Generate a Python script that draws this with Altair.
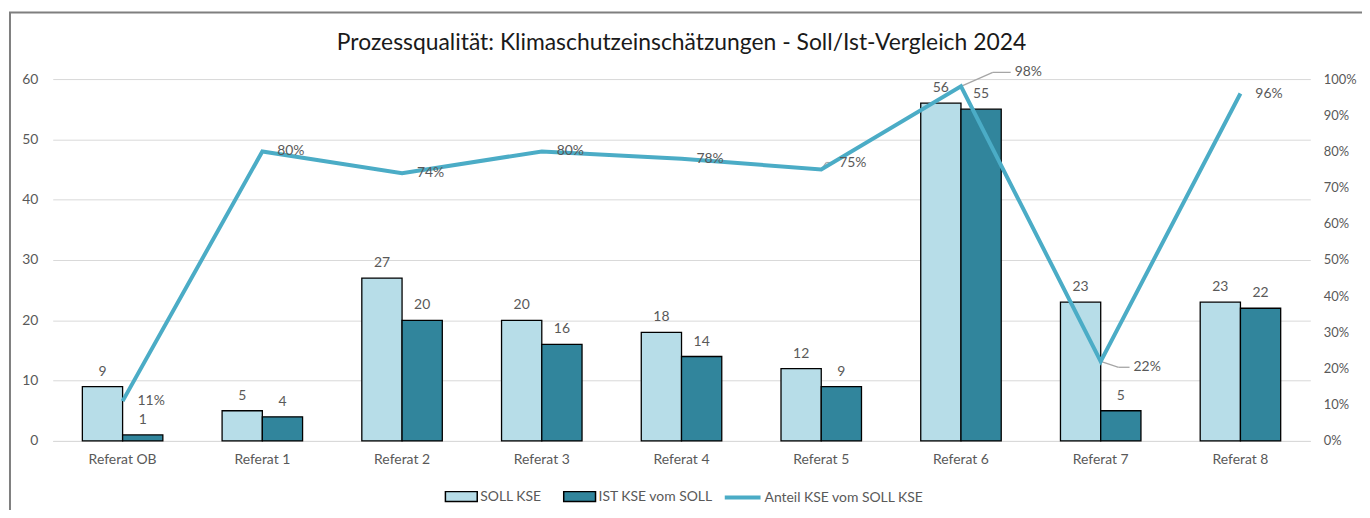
import altair as alt
import pandas as pd

categories = ["Referat OB", "Referat 1", "Referat 2", "Referat 3", "Referat 4",
              "Referat 5", "Referat 6", "Referat 7", "Referat 8"]
soll_kse = [9, 5, 27, 20, 18, 12, 56, 23, 23]
ist_kse = [1, 4, 20, 16, 14, 9, 55, 5, 22]
anteil = [0.11, 0.80, 0.74, 0.80, 0.78, 0.75, 0.98, 0.22, 0.96]

series_names = ["SOLL KSE", "IST KSE vom SOLL"]
line_name = "Anteil KSE vom SOLL KSE"
left_ticks = [0, 10, 20, 30, 40, 50, 60]
right_ticks = [0, 0.1, 0.2, 0.3, 0.4, 0.5, 0.6, 0.7, 0.8, 0.9, 1.0]
title_text = "Prozessqualität: Klimaschutzeinschätzungen - Soll/Ist-Vergleich 2024"

FONT = "Lato"
TXT = "#595959"
FS = 14

bars_df = pd.DataFrame({
    "Referat": categories * 2,
    "Serie": [series_names[0]] * len(categories) + [series_names[1]] * len(categories),
    "Wert": soll_kse + ist_kse,
})
line_df = pd.DataFrame({"Referat": categories, "Anteil": anteil, "Name": [line_name] * len(categories)})

x_enc = alt.X("Referat:N", sort=categories,
              scale=alt.Scale(paddingInner=0.424, paddingOuter=0.212),
              axis=alt.Axis(title=None, labelAngle=0, ticks=False, domainColor="#d9d9d9",
                            domainWidth=1, labelPadding=12, labelFontSize=FS,
                            labelColor=TXT, labelFont=FONT))
x_plain = alt.X("Referat:N", sort=categories)
x_off = alt.XOffset("Serie:N", sort=series_names,
                    scale=alt.Scale(domain=series_names, paddingInner=0, paddingOuter=0))

left_axis = alt.Axis(title=None, values=left_ticks, grid=True, gridColor="#d9d9d9",
                     domain=False, ticks=False, labelPadding=15, labelFontSize=FS,
                     labelColor=TXT, labelFont=FONT, labelOverlap=False)
y_left = alt.Y("Wert:Q", scale=alt.Scale(domain=[0, 60], nice=False), axis=left_axis)

bars = alt.Chart(bars_df).mark_bar(stroke="black", strokeWidth=1.3).encode(
    x=x_enc,
    xOffset=x_off,
    y=y_left,
    fill=alt.Fill("Serie:N", sort=series_names,
                  scale=alt.Scale(domain=series_names, range=["#b7dde8", "#31859c"]),
                  legend=alt.Legend(title=None, orient="none", legendX=394, legendY=403,
                                    direction="horizontal", padding=0,
                                    symbolType="M-1,-0.3125L1,-0.3125L1,0.3125L-1,0.3125Z",
                                    symbolSize=1024, symbolStrokeColor="black",
                                    symbolStrokeWidth=1.5, symbolOpacity=1,
                                    labelFontSize=FS, labelColor=TXT, labelFont=FONT,
                                    labelOffset=2, columnPadding=19)),
)

bar_text = alt.Chart(bars_df).mark_text(baseline="bottom", dy=-8, fontSize=FS,
                                        color=TXT, font=FONT).encode(
    x=x_plain,
    xOffset=x_off,
    y=y_left,
    text=alt.Text("Wert:Q"),
)

right_axis = alt.Axis(title=None, orient="right", values=right_ticks, format=".0%",
                      tickCount=11, grid=False, domain=False, ticks=False, labelPadding=13,
                      labelOverlap=False, labelFontSize=13, labelColor=TXT, labelFont=FONT)
y_right = alt.Y("Anteil:Q", scale=alt.Scale(domain=[0, 1], nice=False), axis=right_axis)

line = alt.Chart(line_df).mark_line(strokeWidth=4).encode(
    x=x_plain,
    y=y_right,
    stroke=alt.Stroke("Name:N", scale=alt.Scale(domain=[line_name], range=["#4bacc6"]),
                      legend=alt.Legend(title=None, orient="none", legendX=674, legendY=401,
                                        padding=0, symbolType="stroke", symbolSize=1296,
                                        symbolStrokeWidth=4, labelFontSize=FS,
                                        labelColor=TXT, labelFont=FONT, labelOffset=2,
                                        labelLimit=400)),
)

special = ["Referat 5", "Referat 6", "Referat 7"]
line_text = alt.Chart(line_df).transform_filter(
    alt.FieldOneOfPredicate(field="Referat", oneOf=[c for c in categories if c not in special])
).mark_text(align="left", baseline="middle", dx=15, fontSize=FS, color=TXT, font=FONT).encode(
    x=x_plain, y=y_right, text=alt.Text("Anteil:Q", format=".0%"),
)


def label_at(ref, dx, dy):
    return alt.Chart(line_df).transform_filter(alt.datum.Referat == ref).mark_text(
        align="left", baseline="middle", dx=dx, dy=dy, fontSize=FS, color=TXT, font=FONT
    ).encode(x=x_plain, y=y_right, text=alt.Text("Anteil:Q", format=".0%"))


def leader(ref, x0, y0, x1, y1):
    return alt.Chart(line_df).transform_filter(alt.datum.Referat == ref).mark_rule(
        color="#a6a6a6", strokeWidth=1.3, xOffset=x0, yOffset=y0, x2Offset=x1, y2Offset=y1
    ).encode(x=x_plain, y=y_right, x2=alt.X2("Referat:N"), y2=alt.Y2("Anteil:Q"))


lab5 = label_at("Referat 5", 18, -7)
lab6 = label_at("Referat 6", 54, -14)
lab7 = label_at("Referat 7", 33, 6)
lead5a = leader("Referat 5", 0, 0, 5, -7)
lead5b = leader("Referat 5", 5, -7, 14, -7)
lead6a = leader("Referat 6", 0, 0, 32, -14)
lead6b = leader("Referat 6", 32, -14, 50, -14)
lead7a = leader("Referat 7", 0, 0, 18, 6)
lead7b = leader("Referat 7", 18, 6, 29, 6)

frame = alt.Chart(pd.DataFrame({"f": [0]})).mark_rect(
    fillOpacity=0, stroke="#7f7f7f", strokeWidth=2
).encode(x=alt.value(-43), x2=alt.value(1340), y=alt.value(-67), y2=alt.value(480))

chart = alt.layer(
    alt.layer(bars, bar_text),
    alt.layer(lead5a, lead5b, lead6a, lead6b, lead7a, lead7b,
              line, line_text, lab5, lab6, lab7),
    frame,
).resolve_scale(y="independent", fill="independent", stroke="independent").properties(
    width=1265, height=364,
    title=alt.TitleParams(title_text, fontSize=23, font=FONT, fontWeight="normal",
                          color="#1a1a1a", anchor="middle", frame="group",
                          baseline="bottom", offset=-67),
    autosize=alt.AutoSizeParams(type="none"),
    padding={"left": 45, "top": 70, "right": 52, "bottom": 68},
).configure(background="white", view=alt.ViewConfig(stroke=None),
            axis=alt.AxisConfig(labelOverlap=False))

chart.save("out.html", embed_options={"renderer": "svg", "actions": False})
